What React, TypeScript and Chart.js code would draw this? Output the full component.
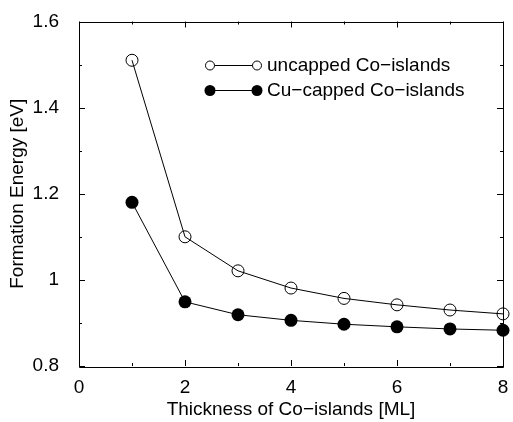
import React, { useEffect, useRef } from "react";
import { Chart, registerables } from "chart.js";

Chart.register(...registerables);

const thickness = [1, 2, 3, 4, 5, 6, 7, 8];
const uncapped = [1.51, 1.1, 1.021, 0.981, 0.957, 0.942, 0.93, 0.921];
const cuCapped = [1.18, 0.949, 0.919, 0.906, 0.897, 0.891, 0.886, 0.883];
const seriesLabels = ["uncapped Co\u2212islands", "Cu\u2212capped Co\u2212islands"];
const xMajorTicks = [0, 2, 4, 6, 8];
const xMinorTicks = [1, 3, 5, 7];
const yMajorTicks = [0.8, 1.0, 1.2, 1.4, 1.6];
const yMinorTicks = [0.9, 1.1, 1.3, 1.5];
const xTitle = "Thickness of Co\u2212islands [ML]";
const yTitle = "Formation Energy [eV]";

const FONT = "'Liberation Sans', Arial, Helvetica, sans-serif";

const framePlugin = {
  id: "frameTicks",
  beforeDatasetsDraw(chart: any) {
    const { ctx, chartArea } = chart;
    const xs = chart.scales.x;
    const ys = chart.scales.y;
    const { left, right, top, bottom } = chartArea;
    ctx.save();
    ctx.strokeStyle = "#000";
    ctx.lineWidth = 1;
    ctx.beginPath();
    ctx.rect(Math.round(left) + 0.5, Math.round(top) + 0.5, Math.round(right - left), Math.round(bottom - top));
    ctx.stroke();
    const major = 6;
    const minor = 3;
    ctx.beginPath();
    const xt = (v: number, len: number) => {
      const px = Math.round(xs.getPixelForValue(v)) + 0.5;
      ctx.moveTo(px, bottom);
      ctx.lineTo(px, bottom - len);
      ctx.moveTo(px, top);
      ctx.lineTo(px, top + len);
    };
    const yt = (v: number, len: number) => {
      const py = Math.round(ys.getPixelForValue(v)) + 0.5;
      ctx.moveTo(left, py);
      ctx.lineTo(left + len, py);
      ctx.moveTo(right, py);
      ctx.lineTo(right - len, py);
    };
    xMajorTicks.forEach((v) => xt(v, major));
    xMinorTicks.forEach((v) => xt(v, minor));
    yMajorTicks.forEach((v) => yt(v, major));
    yMinorTicks.forEach((v) => yt(v, minor));
    ctx.stroke();
    ctx.restore();
  },
  afterDatasetsDraw(chart: any) {
    const { ctx } = chart;
    const x1 = 210;
    const x2 = 257;
    const rows = [65, 90];
    ctx.save();
    chart.data.datasets.forEach((ds: any, i: number) => {
      const y = rows[i];
      ctx.strokeStyle = "#000";
      ctx.lineWidth = 1;
      ctx.beginPath();
      ctx.moveTo(x1, y + 0.5);
      ctx.lineTo(x2, y + 0.5);
      ctx.stroke();
      [x1, x2].forEach((cx) => {
        ctx.beginPath();
        if (i === 0) {
          ctx.arc(cx, y + 0.5, 4.5, 0, Math.PI * 2);
          ctx.fillStyle = "#fff";
          ctx.fill();
          ctx.stroke();
        } else {
          ctx.arc(cx, y + 0.5, 5.5, 0, Math.PI * 2);
          ctx.fillStyle = "#000";
          ctx.fill();
        }
      });
      ctx.fillStyle = "#000";
      ctx.font = `19px ${FONT}`;
      ctx.textBaseline = "middle";
      ctx.textAlign = "left";
      ctx.fillText(ds.label, 267, y + 1);
    });
    ctx.restore();
  },
};

export default function App() {
  const ref = useRef<HTMLCanvasElement | null>(null);
  useEffect(() => {
    if (!ref.current) return;
    const chart = new Chart(ref.current, {
      type: "line",
      data: {
        labels: thickness,
        datasets: [
          {
            label: seriesLabels[0],
            data: thickness.map((x, i) => ({ x, y: uncapped[i] })),
            borderColor: "#000",
            borderWidth: 1,
            pointRadius: 6,
            pointBorderWidth: 1,
            pointBackgroundColor: "rgba(0,0,0,0)",
            pointBorderColor: "#000",
            fill: false,
            tension: 0,
            clip: false as any,
          },
          {
            label: seriesLabels[1],
            data: thickness.map((x, i) => ({ x, y: cuCapped[i] })),
            borderColor: "#000",
            borderWidth: 1,
            pointRadius: 6.5,
            pointBorderWidth: 0,
            pointBackgroundColor: "#000",
            pointBorderColor: "#000",
            fill: false,
            tension: 0,
            clip: false as any,
          },
        ],
      },
      options: {
        animation: false,
        responsive: false,
        devicePixelRatio: 1,
        layout: { padding: { left: 0, right: 10, top: 15, bottom: 0 } },
        plugins: { legend: { display: false }, tooltip: { enabled: false } },
        scales: {
          x: {
            type: "linear",
            min: 0,
            max: 8,
            grid: { display: false },
            border: { display: false },
            afterFit: (s: any) => {
              s.height = 56;
            },
            afterBuildTicks: (s: any) => {
              s.ticks = xMajorTicks.map((v) => ({ value: v }));
            },
            ticks: {
              color: "#000",
              padding: 4,
              maxRotation: 0,
              font: { family: FONT, size: 19, lineHeight: 1 },
              callback: (v: any) => String(v),
            },
            title: {
              display: true,
              text: xTitle,
              color: "#000",
              padding: { top: 0, bottom: 3 },
              font: { family: FONT, size: 19, lineHeight: 1 },
            },
          },
          y: {
            type: "linear",
            min: 0.8,
            max: 1.6,
            grid: { display: false },
            border: { display: false },
            afterFit: (s: any) => {
              s.width = 79;
            },
            afterBuildTicks: (s: any) => {
              s.ticks = yMajorTicks.map((v) => ({ value: v }));
            },
            ticks: {
              color: "#000",
              padding: 12,
              font: { family: FONT, size: 19, lineHeight: 1 },
              callback: (v: any) => {
                const n = Math.round(Number(v) * 10) / 10;
                return n === 1 ? "1" : n.toFixed(1);
              },
            },
            title: {
              display: true,
              text: yTitle,
              color: "#000",
              padding: { top: 8.5, bottom: 0 },
              font: { family: FONT, size: 19, lineHeight: 1 },
            },
          },
        },
      },
      plugins: [framePlugin],
    });
    return () => chart.destroy();
  }, []);
  return (
    <div style={{ position: "absolute", left: 0, top: 0, width: 513, height: 422, background: "#fff" }}>
      <canvas ref={ref} width={513} height={422} style={{ width: 513, height: 422, display: "block" }} />
    </div>
  );
}
